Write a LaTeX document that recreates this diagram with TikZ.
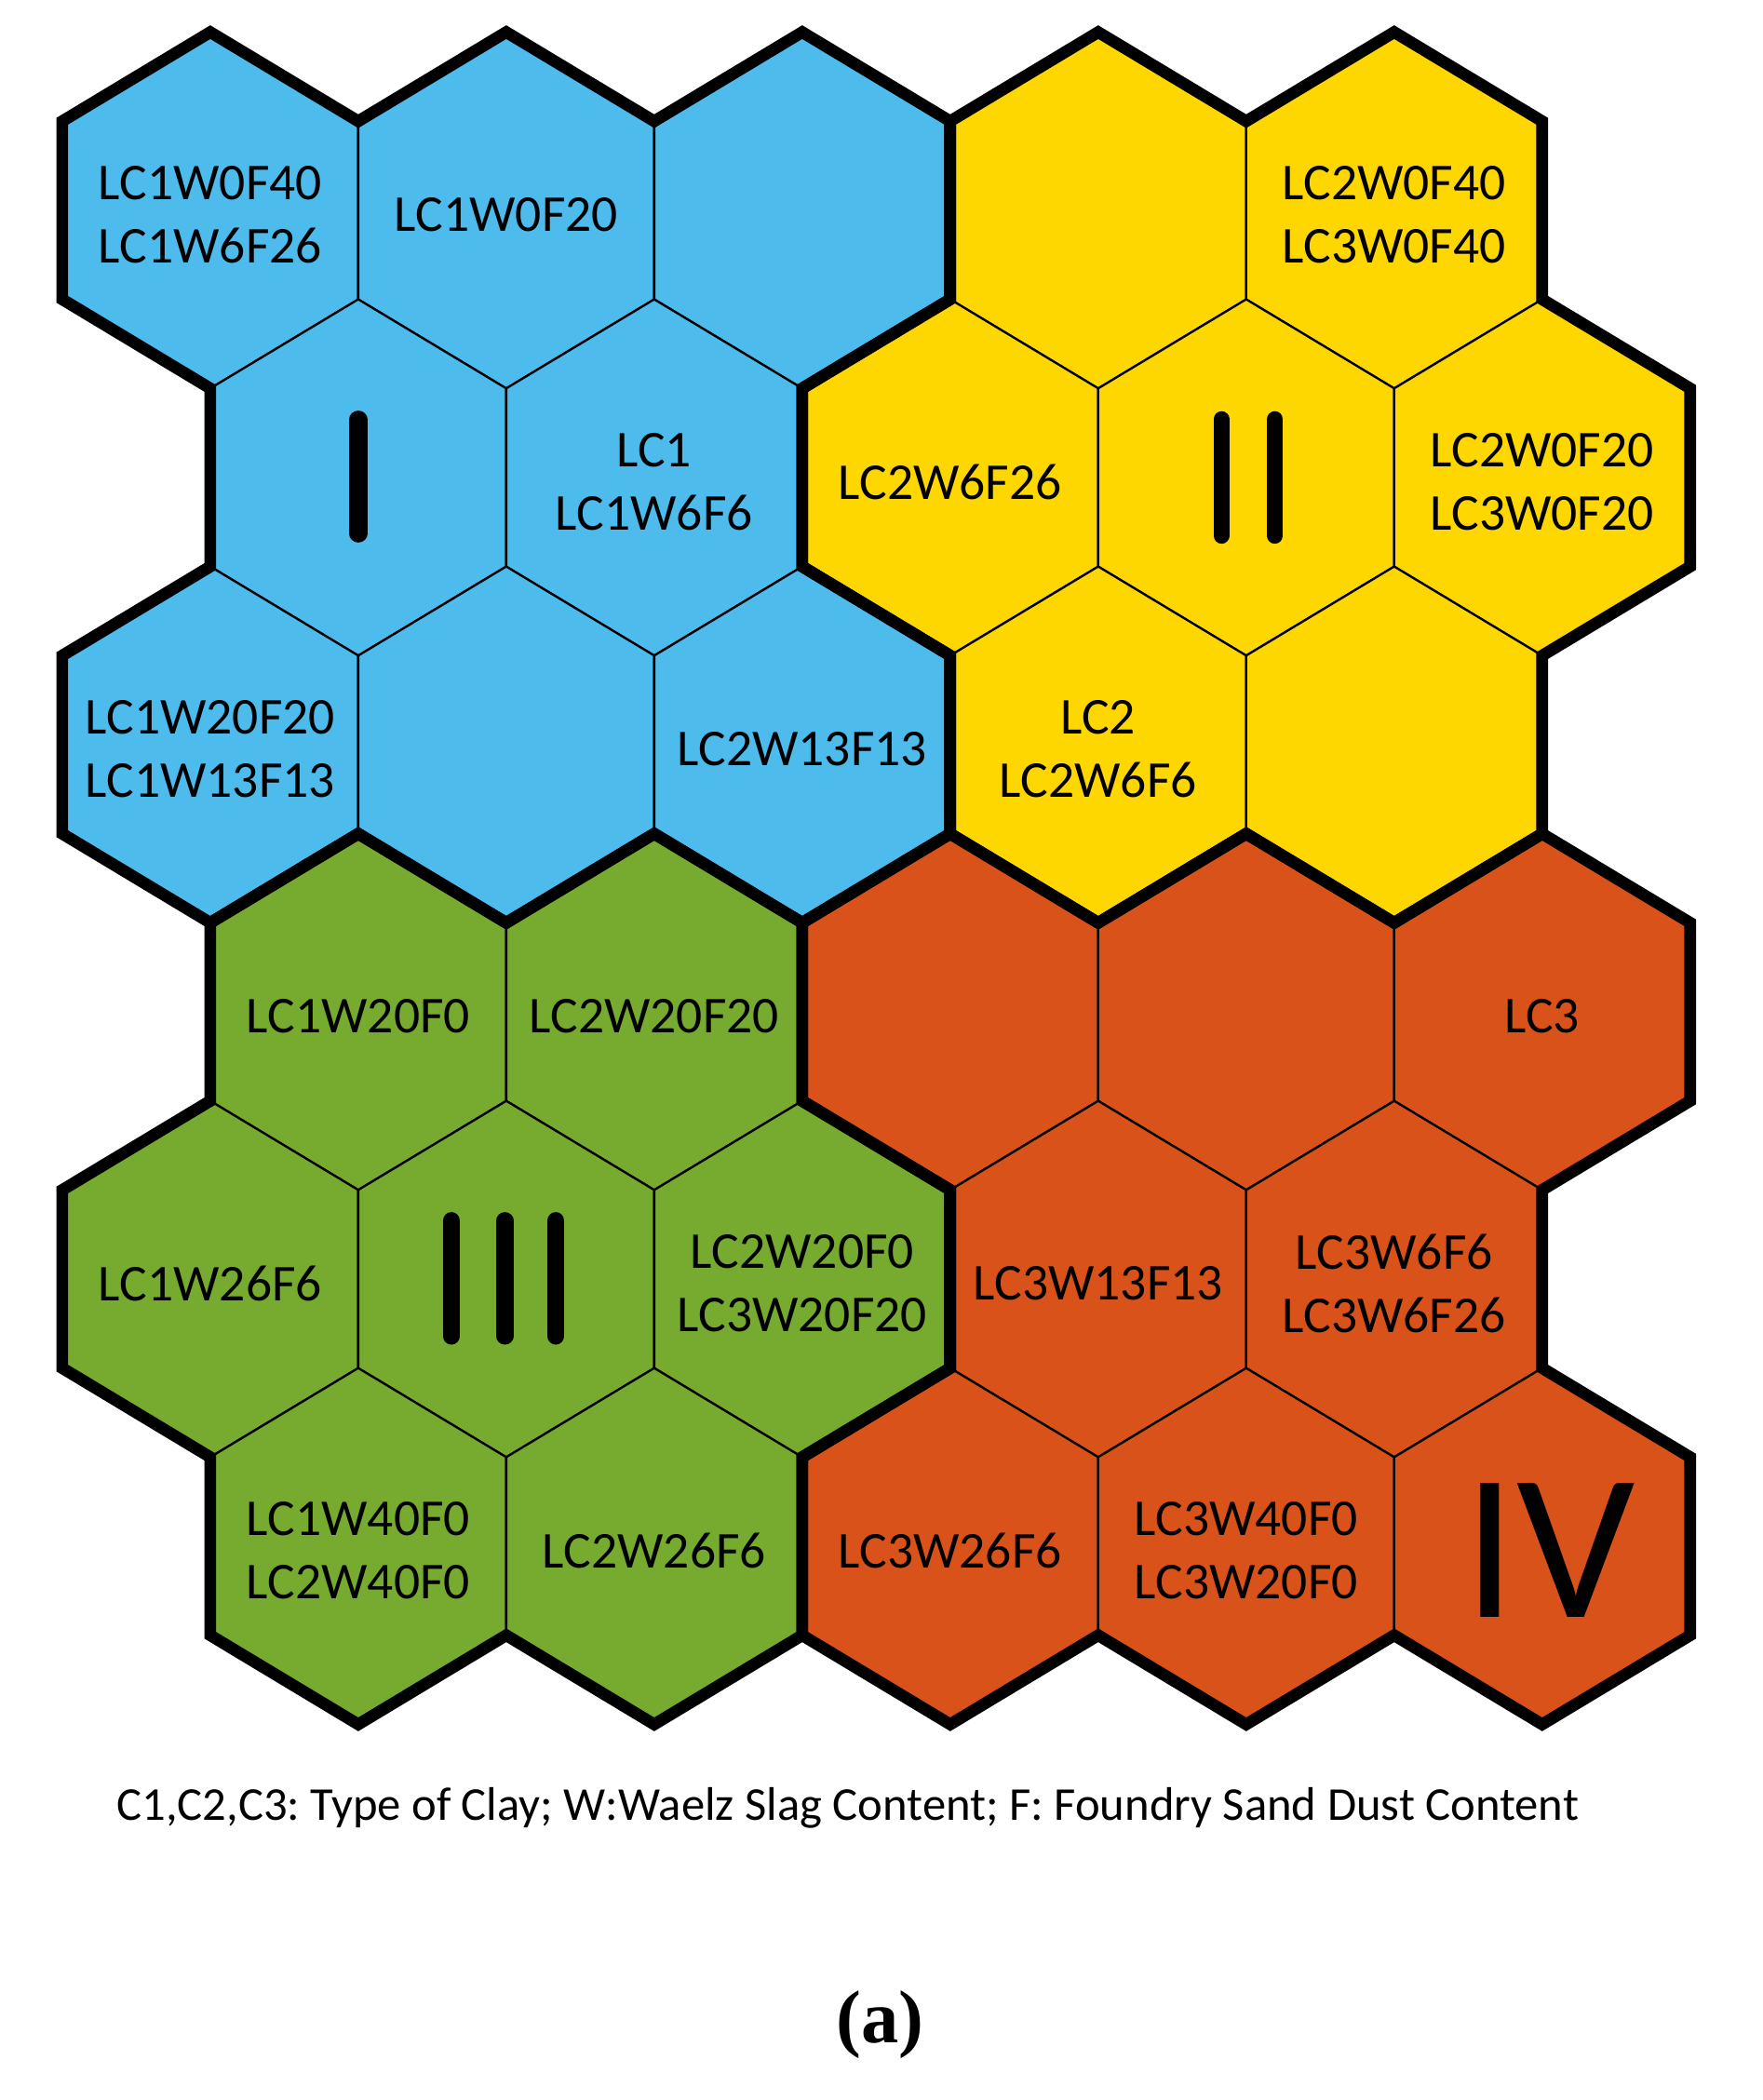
\documentclass[tikz,border=0pt]{standalone}
\usepackage{fontspec}
\setmainfont{Carlito}
\newfontfamily\capserif{Liberation Serif}
\definecolor{cblue}{HTML}{4EBBED}
\definecolor{cyellow}{HTML}{FFD700}
\definecolor{cgreen}{HTML}{76AB2F}
\definecolor{corange}{HTML}{D95219}
\begin{document}
\frenchspacing
\begin{tikzpicture}[x=55.25pt,y=-33.25pt,
  hexcell/.style={line width=0.8pt, line join=miter, draw=black},
  cluster/.style={line width=4.4pt, line join=miter, draw=black},
  lbl/.style={font=\fontsize{19.3}{23.5}\selectfont, align=center, inner sep=0pt},
  numbar/.style={line width=#1, line cap=round, draw=black}]
\useasboundingbox (-0.42081,-0.36090) rectangle (11.48869,23.21805);
% cells
\foreach \cx/\cy/\cc in {1/2/cblue,3/2/cblue,5/2/cblue,2/5/cblue,4/5/cblue,1/8/cblue,3/8/cblue,5/8/cblue,
  7/2/cyellow,9/2/cyellow,6/5/cyellow,8/5/cyellow,10/5/cyellow,7/8/cyellow,9/8/cyellow,
  2/11/cgreen,4/11/cgreen,1/14/cgreen,3/14/cgreen,5/14/cgreen,2/17/cgreen,4/17/cgreen,
  6/11/corange,8/11/corange,10/11/corange,7/14/corange,9/14/corange,6/17/corange,8/17/corange,10/17/corange}
  {\path[hexcell, fill=\cc] (\cx,\cy-2)--(\cx+1,\cy-1)--(\cx+1,\cy+1)--(\cx,\cy+2)--(\cx-1,\cy+1)--(\cx-1,\cy-1)--cycle;}
% cluster outlines
\draw[cluster] (0,1)--(1,0)--(2,1)--(3,0)--(4,1)--(5,0)--(6,1)--(6,3)--(5,4)--(5,6)--(6,7)--(6,9)--(5,10)--(4,9)--(3,10)--(2,9)--(1,10)--(0,9)--(0,7)--(1,6)--(1,4)--(0,3)--cycle;
\draw[cluster] (6,1)--(7,0)--(8,1)--(9,0)--(10,1)--(10,3)--(11,4)--(11,6)--(10,7)--(10,9)--(9,10)--(8,9)--(7,10)--(6,9)--(6,7)--(5,6)--(5,4)--(6,3)--cycle;
\draw[cluster] (1,10)--(2,9)--(3,10)--(4,9)--(5,10)--(5,12)--(6,13)--(6,15)--(5,16)--(5,18)--(4,19)--(3,18)--(2,19)--(1,18)--(1,16)--(0,15)--(0,13)--(1,12)--cycle;
\draw[cluster] (5,10)--(6,9)--(7,10)--(8,9)--(9,10)--(10,9)--(11,10)--(11,12)--(10,13)--(10,15)--(11,16)--(11,18)--(10,19)--(9,18)--(8,19)--(7,18)--(6,19)--(5,18)--(5,16)--(6,15)--(6,13)--(5,12)--cycle;
% labels
\node[lbl] (a1) at (1,2.05) {LC1W0F40\\LC1W6F26};
\node[lbl] (a2) at (3,2.05) {LC1W0F20};
\node[lbl] (a5) at (9,2.05) {LC2W0F40\\LC3W0F40};
\node[lbl] (b2) at (4,5.05) {LC1\\LC1W6F6};
\node[lbl] (b3) at (6,5.05) {LC2W6F26};
\node[lbl] (b5) at (10,5.05) {LC2W0F20\\LC3W0F20};
\node[lbl] (c1) at (1,8.05) {LC1W20F20\\LC1W13F13};
\node[lbl] (c3) at (5,8.05) {LC2W13F13};
\node[lbl] (c4) at (7,8.05) {LC2\\LC2W6F6};
\node[lbl] (d1) at (2,11.05) {LC1W20F0};
\node[lbl] (d2) at (4,11.05) {LC2W20F20};
\node[lbl] (d5) at (10,11.05) {LC3};
\node[lbl] (e1) at (1,14.05) {LC1W26F6};
\node[lbl] (e3) at (5,14.05) {LC2W20F0\\LC3W20F20};
\node[lbl] (e4) at (7,14.05) {LC3W13F13};
\node[lbl] (e5) at (9,14.05) {LC3W6F6\\LC3W6F26};
\node[lbl] (f1) at (2,17.05) {LC1W40F0\\LC2W40F0};
\node[lbl] (f2) at (4,17.05) {LC2W26F6};
\node[lbl] (f3) at (6,17.05) {LC3W26F6};
\node[lbl] (f4) at (8,17.05) {LC3W40F0\\LC3W20F0};
\node[lbl, font=\fontsize{78}{80}\selectfont] (f5) at (10.05,17.05) {IV};
% roman numeral bars
\draw[numbar=6.7pt] (2,4.35)--(2,5.63);
\draw[numbar=6pt] (7.8326,4.346)--(7.8326,5.654);
\draw[numbar=6pt] (8.1946,4.346)--(8.1946,5.654);
\draw[numbar=6.5pt] (2.629,13.346)--(2.629,14.639);
\draw[numbar=6.5pt] (2.991,13.346)--(2.991,14.639);
\draw[numbar=6.5pt] (3.335,13.346)--(3.335,14.639);
% caption
\node[font=\fontsize{17.6}{21}\selectfont, inner sep=0pt] (cap) at (5.308,19.94) {C1,C2,C3: Type of Clay; W:Waelz Slag Content; F: Foundry Sand Dust Content};
\node[font=\capserif\bfseries\fontsize{28}{34}\selectfont, inner sep=0pt] (sub) at (5.525,22.376) {(a)};
\end{tikzpicture}
\end{document}
